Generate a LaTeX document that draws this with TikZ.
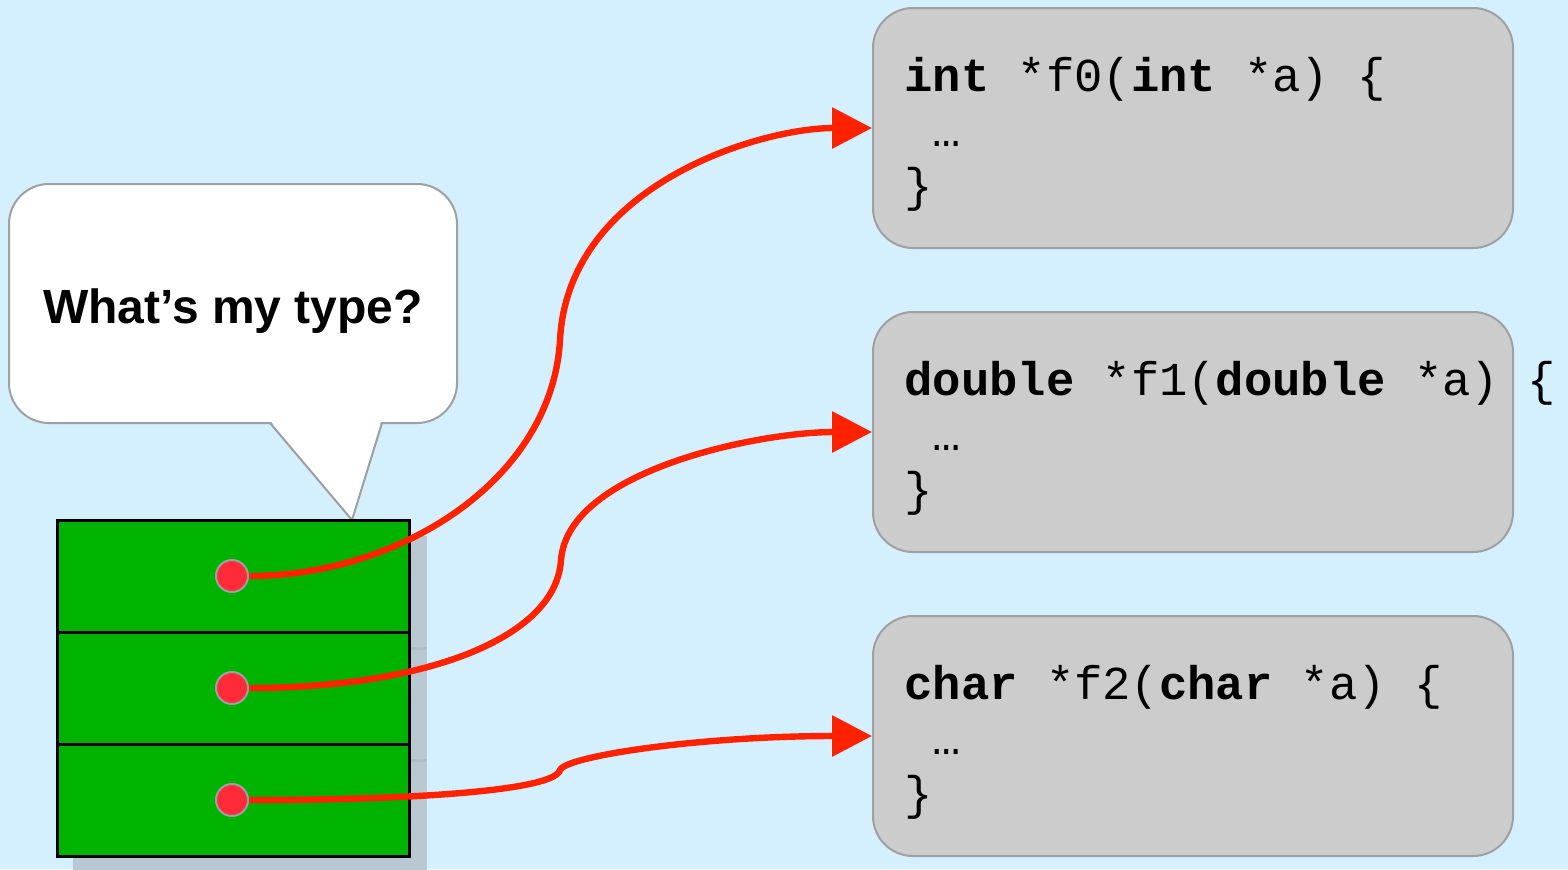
\documentclass[tikz,border=0pt]{standalone}
\usepackage{fontspec}
\setmainfont{Liberation Sans}
\setmonofont{Liberation Mono}
\usetikzlibrary{arrows.meta}

\definecolor{sky}{HTML}{D4EFFD}
\definecolor{slotgreen}{HTML}{00B300}
\definecolor{ptrred}{HTML}{FF2200}
\definecolor{dotred}{HTML}{FF2A3A}
\definecolor{boxgray}{HTML}{CCCCCC}
\definecolor{edgegray}{HTML}{A0A0A0}
\definecolor{dropblue}{HTML}{B9C9D3}
\definecolor{droprule}{HTML}{AEBEC8}

\begin{document}
\begin{tikzpicture}[x=0.5pt,y=-0.5pt,
  codebox/.style={draw=edgegray,line width=1pt,fill=boxgray,rounded corners=20pt,
    minimum width=320pt,minimum height=120pt,inner sep=0pt},
  codeline/.style={anchor=base west,inner sep=0pt,
    font=\ttfamily\fontsize{23.6}{27.5}\selectfont},
  slot/.style={draw=black,line width=1.5pt,fill=slotgreen,
    minimum width=176pt,minimum height=56pt,inner sep=0pt},
  ptrdot/.style={circle,draw=edgegray,line width=1pt,fill=dotred,
    minimum size=16pt,inner sep=0pt},
  ptr/.style={draw=ptrred,line width=3.2pt,
    -{Triangle[length=20pt,width=20pt]}},
  bubble/.style={draw=edgegray,line width=1pt,fill=white,rounded corners=20pt,
    minimum width=224pt,minimum height=119.5pt,inner sep=0pt},
  asktext/.style={anchor=base,inner sep=0pt,
    font=\bfseries\fontsize{24}{28}\selectfont}]

% canvas
\useasboundingbox (0,0) rectangle (1568,869);
\fill[sky] (0,0) rectangle (1568,869);

% function bodies
\node[codebox] (f0) at (1193,128) {};
\node[codebox] (f1) at (1193,432) {};
\node[codebox] (f2) at (1193,736) {};

\node[codeline] (f0a) at ([shift={(32,84)}]f0.north west)
  {{\bfseries int} *f0({\bfseries int} *a)\ \{};
\node[codeline] (f0b) at ([shift={(32,139)}]f0.north west) {\phantom{x}…};
\node[codeline] (f0c) at ([shift={(32,194)}]f0.north west) {\}};

\node[codeline] (f1a) at ([shift={(32,84)}]f1.north west)
  {{\bfseries double} *f1({\bfseries double} *a)\ \{};
\node[codeline] (f1b) at ([shift={(32,139)}]f1.north west) {\phantom{x}…};
\node[codeline] (f1c) at ([shift={(32,194)}]f1.north west) {\}};

\node[codeline] (f2a) at ([shift={(32,84)}]f2.north west)
  {{\bfseries char} *f2({\bfseries char} *a)\ \{};
\node[codeline] (f2b) at ([shift={(32,139)}]f2.north west) {\phantom{x}…};
\node[codeline] (f2c) at ([shift={(32,194)}]f2.north west) {\}};

% speech bubble
\node[bubble] (ask) at (233,303.5) {};
\fill[white] (271,421.5) -- (352,520) -- (381,421.5) -- cycle;
\draw[edgegray,line width=1pt,line join=miter] (270,423) -- (352,520) -- (382,423);
\node[asktext] (askline) at (233,323) {What’s my type?};

% pointer table with its drop shadow
\fill[dropblue] (73,536) rectangle (427,872);
\draw[droprule,line width=1.5pt] (400,648) -- (427,648) (400,760) -- (427,760);
\node[slot] (s0) at (233,576) {};
\node[slot] (s1) at (233,688) {};
\node[slot] (s2) at (233,800) {};

\node[ptrdot] (d0) at (232,576) {};
\node[ptrdot] (d1) at (232,688) {};
\node[ptrdot] (d2) at (232,800) {};

% pointers
\coordinate (k0) at (560,340);
\coordinate (k1) at (561,560);
\coordinate (k2) at (560,770);

\draw[ptr] (d0.east) .. controls (400,576) and (552,480) .. (k0)
  .. controls (568,185) and (760,128) .. (f0.west);
\draw[ptr] (d1.east) .. controls (420,688) and (556,640) .. (k1)
  .. controls (568,470) and (760,432) .. (f1.west);
\draw[ptr] (d2.east) .. controls (420,800) and (555,790) .. (k2)
  .. controls (566,756) and (700,736) .. (f2.west);
\end{tikzpicture}
\end{document}
